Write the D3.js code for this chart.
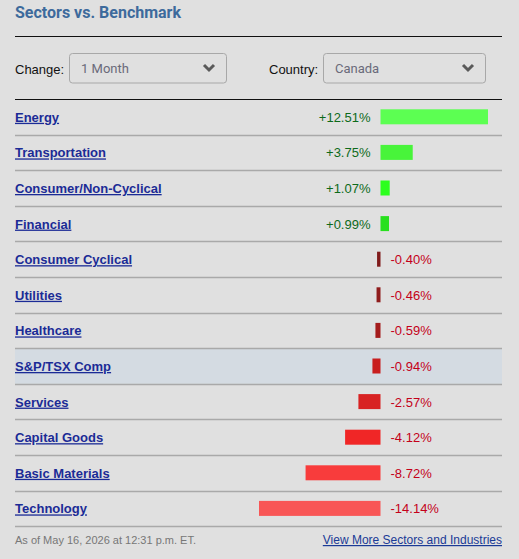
<!DOCTYPE html>
<html>
<head>
<meta charset="utf-8">
<script src="https://cdn.jsdelivr.net/npm/d3@7"></script>
<style>
  html, body { margin: 0; padding: 0; background: #e0e0e0; }
  svg { display: block; font-family: "Liberation Sans", Arial, sans-serif; }
</style>
</head>
<body>
<div id="chart"></div>
<script>
// ---- Data
const sectors = [
  'Energy', 'Transportation', 'Consumer/Non-Cyclical', 'Financial',
  'Consumer Cyclical', 'Utilities', 'Healthcare', 'S&P/TSX Comp',
  'Services', 'Capital Goods', 'Basic Materials', 'Technology'
];
const changes = [12.51, 3.75, 1.07, 0.99, -0.40, -0.46, -0.59, -0.94, -2.57, -4.12, -8.72, -14.14];
const benchmark = 'S&P/TSX Comp';
const changeOptions = ['1 Month'];
const countryOptions = ['Canada'];
const titleText = 'Sectors vs. Benchmark';
const footnote = 'As of May 16, 2026 at 12:31 p.m. ET.';
const moreLink = 'View More Sectors and Industries';

const W = 519, H = 559;
const left = 15, right = 502;
const rowTop = 99, rowH = 35.6;

const svg = d3.select('#chart').append('svg')
  .attr('width', W).attr('height', H);

svg.append('rect').attr('width', W).attr('height', H).attr('fill', '#e0e0e0');

// ---- Title
svg.append('text')
  .attr('x', left).attr('y', 18)
  .style('font-family', 'Roboto, "Liberation Sans", sans-serif')
  .style('font-size', '16px').style('font-weight', '700')
  .attr('fill', '#3d6a9c')
  .text(titleText);

svg.append('line')
  .attr('x1', left).attr('x2', right).attr('y1', 36.5).attr('y2', 36.5)
  .attr('stroke', '#111');

// ---- Dropdown controls
function dropdown(label, labelX, x, w, value) {
  svg.append('text').attr('x', labelX).attr('y', 74)
    .style('font-size', '13px').attr('fill', '#111').text(label);
  svg.append('rect')
    .attr('x', x + 0.5).attr('y', 53.5).attr('width', w).attr('height', 29.5)
    .attr('rx', 3).attr('fill', '#e0e0e0').attr('stroke', '#a8a8a8');
  svg.append('text').attr('x', x + 12).attr('y', 72.5)
    .style('font-family', 'Roboto, "Liberation Sans", sans-serif')
    .style('font-size', '13px').attr('fill', '#6a6a7a').text(value);
  const cx = x + w - 17;
  svg.append('path')
    .attr('d', `M${cx - 5},${65} L${cx},${70} L${cx + 5},${65}`)
    .attr('fill', 'none').attr('stroke', '#5a5a5a').attr('stroke-width', 3);
}
dropdown('Change:', left, 69, 157, changeOptions[0]);
dropdown('Country:', 269, 323, 162, countryOptions[0]);

// ---- Scales
const y = d3.scaleBand()
  .domain(sectors)
  .range([rowTop, rowTop + rowH * sectors.length]);

const x = d3.scaleLinear()
  .domain([d3.min(changes), d3.max(changes)])
  .range([259, 488]);

const color = d3.scaleLinear()
  .domain([-14.14, -8.72, -4.12, -2.57, -0.94, -0.59, -0.46, -0.40, 0, 0.99, 1.07, 3.75, 12.51])
  .range(['#f85656', '#f83c3c', '#f02626', '#d82222', '#c81e1e', '#a41c1c', '#8f1c1c', '#7f1b1b',
          '#7f1b1b', '#28e01e', '#2cff1e', '#48f43a', '#5cff52'])
  .clamp(true);

const rows = sectors.map((s, i) => ({ name: s, value: changes[i] }));

// ---- Rows
const g = svg.append('g').attr('class', 'rows');

g.selectAll('.hl')
  .data(rows.filter(d => d.name === benchmark))
  .join('rect')
  .attr('class', 'hl')
  .attr('x', left).attr('width', right - left)
  .attr('y', d => y(d.name)).attr('height', y.bandwidth())
  .attr('fill', '#d4dbe2');

g.selectAll('.sep')
  .data(rows)
  .join('line')
  .attr('class', 'sep')
  .attr('x1', left).attr('x2', right)
  .attr('y1', d => Math.round(y(d.name) + y.bandwidth()) + 0.5)
  .attr('y2', d => Math.round(y(d.name) + y.bandwidth()) + 0.5)
  .attr('stroke', '#a9a9a9').attr('stroke-width', 1.5);

svg.append('line')
  .attr('x1', left).attr('x2', right).attr('y1', rowTop + 0.5).attr('y2', rowTop + 0.5)
  .attr('stroke', '#111');

const cy = d => y(d.name) + y.bandwidth() / 2;

g.selectAll('.name')
  .data(rows)
  .join('text')
  .attr('class', 'name')
  .attr('x', left).attr('y', d => cy(d) + 5)
  .style('font-size', '13px').style('font-weight', '700')
  .style('text-decoration', 'underline')
  .attr('fill', '#1b2b96')
  .text(d => d.name);

g.selectAll('.bar')
  .data(rows)
  .join('rect')
  .attr('class', 'bar')
  .attr('x', d => d.value >= 0 ? x(0) : Math.min(x(d.value), x(0) - 3))
  .attr('width', d => Math.max(3, Math.abs(x(d.value) - x(0))))
  .attr('y', d => cy(d) - 7.5).attr('height', 15)
  .attr('fill', d => color(d.value));

const fmt = d3.format('+.2f');
g.selectAll('.pct')
  .data(rows)
  .join('text')
  .attr('class', 'pct')
  .attr('x', d => d.value >= 0 ? x(0) - 10 : x(0) + 10)
  .attr('y', d => cy(d) + 5)
  .attr('text-anchor', d => d.value >= 0 ? 'end' : 'start')
  .style('font-size', '13px')
  .attr('fill', d => d.value >= 0 ? '#0d6a1a' : '#c4001a')
  .text(d => fmt(d.value).replace('−', '-') + '%');

// ---- Footer
svg.append('text')
  .attr('x', left).attr('y', 544)
  .style('font-size', '11px').attr('fill', '#777')
  .text(footnote);

svg.append('text')
  .attr('x', right).attr('y', 544)
  .attr('text-anchor', 'end')
  .style('font-size', '12px').style('text-decoration', 'underline')
  .attr('fill', '#1a3a96')
  .text(moreLink);
</script>
</body>
</html>
